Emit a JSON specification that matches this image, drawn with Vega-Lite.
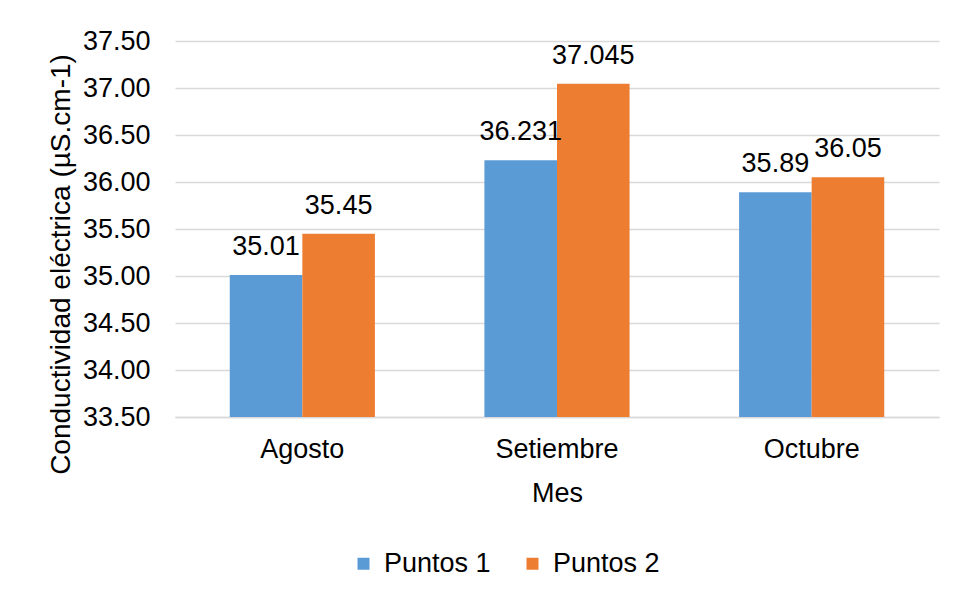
{
  "$schema": "https://vega.github.io/schema/vega-lite/v6.json",
  "width": 764,
  "height": 376,
  "autosize": {"type": "none"},
  "padding": {"left": 175, "top": 41, "right": 16, "bottom": 178},
  "background": "white",
  "config": {"font": "Liberation Sans", "view": {"stroke": null}},
  "data": {
    "values": [
      {"Mes": "Agosto", "Serie": "Puntos 1", "Valor": 35.01},
      {"Mes": "Agosto", "Serie": "Puntos 2", "Valor": 35.45},
      {"Mes": "Setiembre", "Serie": "Puntos 1", "Valor": 36.231},
      {"Mes": "Setiembre", "Serie": "Puntos 2", "Valor": 37.045},
      {"Mes": "Octubre", "Serie": "Puntos 1", "Valor": 35.89},
      {"Mes": "Octubre", "Serie": "Puntos 2", "Valor": 36.05}
    ]
  },
  "encoding": {
    "x": {
      "field": "Mes",
      "type": "nominal",
      "sort": ["Agosto", "Setiembre", "Octubre"],
      "scale": {"paddingInner": 0.43, "paddingOuter": 0.215},
      "axis": {
        "title": "Mes",
        "titleFontSize": 27,
        "titleFontWeight": "normal",
        "titleColor": "#000000",
        "titleY": 84,
        "titleBaseline": "alphabetic",
        "labelAngle": 0,
        "labelFontSize": 27,
        "labelColor": "#000000",
        "labelPadding": 19,
        "ticks": false,
        "domainColor": "#D9D9D9",
        "domainWidth": 1.5
      }
    },
    "xOffset": {"field": "Serie", "type": "nominal", "sort": ["Puntos 1", "Puntos 2"]},
    "y": {
      "field": "Valor",
      "type": "quantitative",
      "scale": {"domain": [33.5, 37.5], "zero": false, "nice": false},
      "axis": {
        "title": "Conductividad eléctrica (µS.cm-1)",
        "titleFontSize": 28,
        "titleFontWeight": "normal",
        "titleColor": "#000000",
        "titleX": -114,
        "titleY": 223,
        "titleAngle": 270,
        "titleAlign": "center",
        "titleBaseline": "middle",
        "values": [33.5, 34, 34.5, 35, 35.5, 36, 36.5, 37, 37.5],
        "format": ".2f",
        "labelFontSize": 27,
        "labelColor": "#000000",
        "labelPadding": 25,
        "grid": true,
        "gridColor": "#D9D9D9",
        "gridWidth": 1.5,
        "domain": false,
        "ticks": false
      }
    }
  },
  "layer": [
    {
      "mark": {"type": "bar", "clip": true},
      "encoding": {
        "y2": {"datum": 33.5},
        "color": {
          "field": "Serie",
          "type": "nominal",
          "scale": {"domain": ["Puntos 1", "Puntos 2"], "range": ["#5B9BD5", "#ED7D31"]},
          "legend": {
            "title": null,
            "orient": "none",
            "legendX": 175,
            "legendY": 509,
            "direction": "horizontal",
            "symbolType": "square",
            "symbolSize": 144,
            "symbolStrokeWidth": 0,
            "labelFontSize": 27,
            "labelColor": "#000000",
            "labelOffset": 7,
            "columnPadding": 28
          }
        }
      }
    },
    {
      "mark": {"type": "text", "baseline": "alphabetic", "dy": -20, "fontSize": 27, "color": "#000000"},
      "encoding": {"text": {"field": "Valor", "type": "quantitative", "format": ""}}
    }
  ]
}
